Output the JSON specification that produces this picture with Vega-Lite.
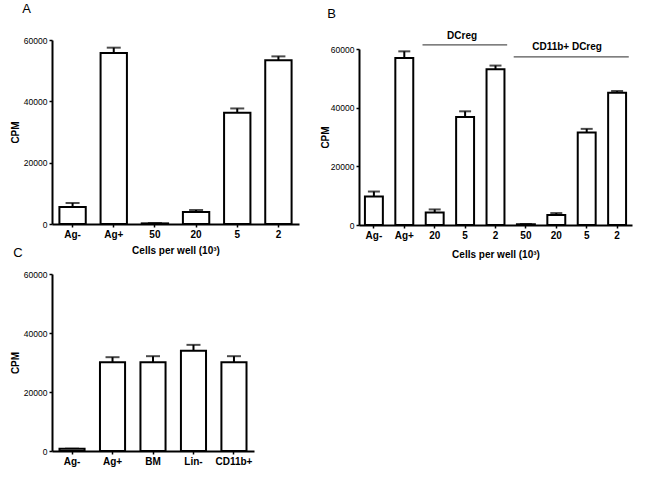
{
  "$schema": "https://vega.github.io/schema/vega-lite/v6.json",
  "padding": {"left": 10, "top": 3, "right": 5, "bottom": 5},
  "background": "white",
  "config": {
    "view": {"stroke": null},
    "font": "Liberation Sans",
    "title": {"fontSize": 13, "fontWeight": "normal", "anchor": "start", "font": "Liberation Sans", "color": "black"},
    "axis": {"domainColor": "black", "domainWidth": 2, "tickColor": "black", "tickWidth": 1.5, "tickSize": 3, "grid": false, "labelColor": "black", "titleColor": "black", "labelFont": "Liberation Sans", "titleFont": "Liberation Sans"},
    "axisX": {"labelFontSize": 10, "labelFontWeight": "bold", "labelAngle": 0, "titleFontSize": 10, "titleFontWeight": "bold", "labelPadding": 2, "titlePadding": 3},
    "axisY": {"labelFontSize": 8.5, "titleFontSize": 10, "titleFontWeight": "bold", "labelPadding": 2, "titlePadding": 3}
  },
  "datasets": {
    "a": [
      {"cat": "Ag-", "cpm": 5550, "upper": 6860},
      {"cat": "Ag+", "cpm": 55750, "upper": 57500},
      {"cat": "50", "cpm": 200, "upper": 300},
      {"cat": "20", "cpm": 3920, "upper": 4570},
      {"cat": "5", "cpm": 36260, "upper": 37680},
      {"cat": "2", "cpm": 53360, "upper": 54660}
    ],
    "b": [
      {"cat": "Ag-", "cpm": 9720, "upper": 11410},
      {"cat": "Ag+", "cpm": 56950, "upper": 59200},
      {"cat": "DC20", "cpm": 4290, "upper": 5310},
      {"cat": "DC5", "cpm": 36840, "upper": 38760},
      {"cat": "DC2", "cpm": 53110, "upper": 54350},
      {"cat": "CD50", "cpm": 250, "upper": 350},
      {"cat": "CD20", "cpm": 3390, "upper": 4070},
      {"cat": "CD5", "cpm": 31530, "upper": 32770},
      {"cat": "CD2", "cpm": 45090, "upper": 45650}
    ],
    "ann": [
      {"label": "DCreg", "from": "DC20", "to": "DC2", "mid": "DC5", "yline": 61400, "ytext": 64400},
      {"label": "CD11b+ DCreg", "from": "CD50", "to": "CD2", "mid": "CD20", "yline": 57300, "ytext": 60700}
    ],
    "c": [
      {"cat": "Ag-", "cpm": 790, "upper": 790},
      {"cat": "Ag+", "cpm": 30110, "upper": 31800},
      {"cat": "BM", "cpm": 30110, "upper": 32140},
      {"cat": "Lin-", "cpm": 33950, "upper": 35980},
      {"cat": "CD11b+", "cpm": 30110, "upper": 32140}
    ]
  },
  "spacing": -12,
  "vconcat": [
    {
      "spacing": 21,
      "hconcat": [
        {
          "title": {"text": "A", "dx": 12, "offset": 20},
          "width": 247,
          "height": 184,
          "data": {"name": "a"},
          "encoding": {
            "x": {"field": "cat", "type": "nominal", "scale": {"domain": ["Ag-", "Ag+", "50", "20", "5", "2"], "paddingInner": 0.36, "paddingOuter": 0.18}, "axis": {"title": "Cells per well (10³)", "titlePadding": 6}},
            "y": {"field": "cpm", "type": "quantitative", "scale": {"domain": [0, 60000], "nice": false}, "axis": {"title": "CPM", "values": [0, 20000, 40000, 60000], "format": "d"}}
          },
          "layer": [
            {"mark": {"type": "rule", "color": "black", "strokeWidth": 2}, "encoding": {"y": {"field": "cpm", "type": "quantitative"}, "y2": {"field": "upper"}}},
            {"mark": {"type": "tick", "color": "black", "size": 14, "thickness": 2}, "encoding": {"y": {"field": "upper", "type": "quantitative"}}},
            {"mark": {"type": "bar", "fill": "white", "stroke": "black", "strokeWidth": 2}}
          ]
        },
        {
          "title": {"text": "B", "dx": 7, "offset": 10},
          "width": 273,
          "height": 185,
          "encoding": {
            "x": {"field": "cat", "type": "nominal", "scale": {"domain": ["Ag-", "Ag+", "DC20", "DC5", "DC2", "CD50", "CD20", "CD5", "CD2"], "paddingInner": 0.41, "paddingOuter": 0.195}, "axis": {"title": "Cells per well (10³)", "labelExpr": "replace(replace(datum.label, 'DC', ''), 'CD', '')", "titlePadding": 9}},
            "y": {"field": "cpm", "type": "quantitative", "scale": {"domain": [0, 60000], "nice": false, "range": [185, 9]}, "axis": {"title": "CPM", "titlePadding": 0, "values": [0, 20000, 40000, 60000], "format": "d"}}
          },
          "layer": [
            {
              "data": {"name": "b"},
              "layer": [
                {"mark": {"type": "rule", "color": "black", "strokeWidth": 2}, "encoding": {"y": {"field": "cpm", "type": "quantitative"}, "y2": {"field": "upper"}}},
                {"mark": {"type": "tick", "color": "black", "size": 12, "thickness": 2}, "encoding": {"y": {"field": "upper", "type": "quantitative"}}},
                {"mark": {"type": "bar", "fill": "white", "stroke": "black", "strokeWidth": 2}}
              ]
            },
            {
              "data": {"name": "ann"},
              "mark": {"type": "rule", "color": "#555", "strokeWidth": 1.2},
              "encoding": {
                "x": {"field": "from", "type": "nominal", "bandPosition": -0.18},
                "x2": {"field": "to", "bandPosition": 1.15},
                "y": {"field": "yline", "type": "quantitative"}
              }
            },
            {
              "data": {"name": "ann"},
              "transform": [{"filter": "datum.label === 'DCreg'"}],
              "mark": {"type": "text", "fontSize": 10, "fontWeight": "bold", "baseline": "middle", "color": "black"},
              "encoding": {
                "x": {"field": "mid", "type": "nominal", "bandPosition": 0.33},
                "y": {"field": "ytext", "type": "quantitative"},
                "text": {"field": "label"}
              }
            },
            {
              "data": {"name": "ann"},
              "transform": [{"filter": "datum.label !== 'DCreg'"}],
              "mark": {"type": "text", "fontSize": 10, "fontWeight": "bold", "baseline": "middle", "color": "black"},
              "encoding": {
                "x": {"field": "mid", "type": "nominal", "bandPosition": 1.1},
                "y": {"field": "ytext", "type": "quantitative"},
                "text": {"field": "label"}
              }
            }
          ]
        }
      ]
    },
    {
      "vconcat": [
        {
          "title": {"text": "C", "dx": 3, "offset": 10},
          "width": 202,
          "height": 177,
          "data": {"name": "c"},
          "encoding": {
            "x": {"field": "cat", "type": "nominal", "scale": {"domain": ["Ag-", "Ag+", "BM", "Lin-", "CD11b+"], "paddingInner": 0.38, "paddingOuter": 0.185}, "axis": {"title": null}},
            "y": {"field": "cpm", "type": "quantitative", "scale": {"domain": [0, 60000], "nice": false}, "axis": {"title": "CPM", "values": [0, 20000, 40000, 60000], "format": "d"}}
          },
          "layer": [
            {"mark": {"type": "rule", "color": "black", "strokeWidth": 2}, "encoding": {"y": {"field": "cpm", "type": "quantitative"}, "y2": {"field": "upper"}}},
            {"mark": {"type": "tick", "color": "black", "size": 14, "thickness": 2}, "encoding": {"y": {"field": "upper", "type": "quantitative"}}},
            {"mark": {"type": "bar", "fill": "white", "stroke": "black", "strokeWidth": 2}}
          ]
        }
      ]
    }
  ]
}
